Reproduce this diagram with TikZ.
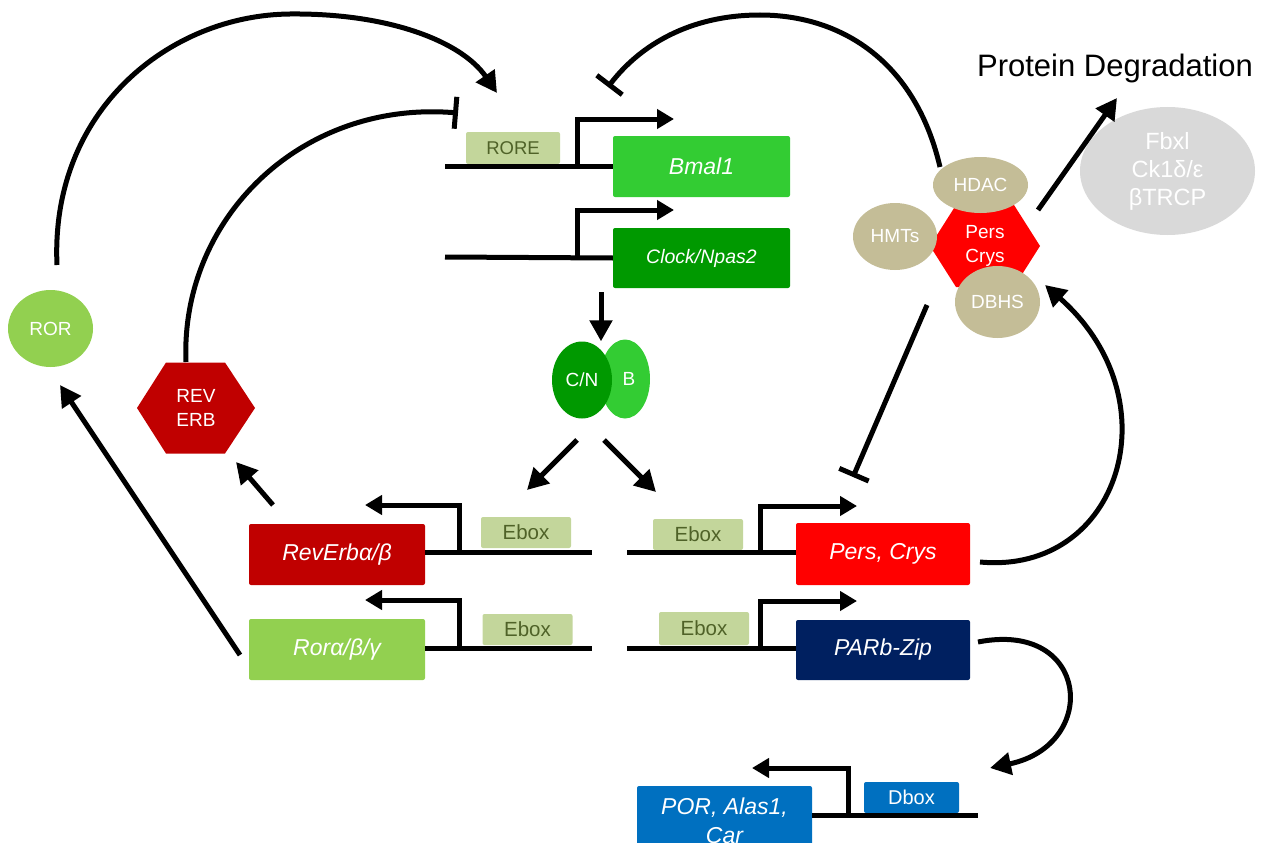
\documentclass[tikz,border=0pt]{standalone}
\usepackage{fontspec}
\setmainfont{Liberation Sans}
\usetikzlibrary{arrows.meta,shapes.geometric}
\definecolor{bmalgreen}{HTML}{33CC33}
\definecolor{clockgreen}{HTML}{009900}
\definecolor{roreface}{HTML}{C3D69B}
\definecolor{roretext}{HTML}{4F6228}
\definecolor{revred}{HTML}{C00000}
\definecolor{rorgreen}{HTML}{92D050}
\definecolor{persred}{HTML}{FF0000}
\definecolor{parblue}{HTML}{002060}
\definecolor{porblue}{HTML}{0070C0}
\definecolor{beige}{HTML}{C4BD97}
\definecolor{lightgray}{HTML}{D9D9D9}
\newcommand{\fs}[1]{\fontsize{#1}{#1}\selectfont}
\begin{document}
\begin{tikzpicture}[x=1pt,y=-1pt,
  genebox/.style={rectangle, rounded corners=2pt, inner sep=0pt, text=white,
    font=\fs{23}\itshape},
  sitebox/.style={rectangle, rounded corners=2pt, inner sep=0pt, fill=roreface,
    text=roretext, minimum width=90pt, minimum height=31pt, font=\fs{20.5}},
  blob/.style={ellipse, inner sep=0pt, text=white, font=\fs{19}},
  hextext/.style={rectangle, inner sep=0pt, text=white, align=center,
    font=\fontsize{19}{24}\selectfont},
  dna/.style={line width=5pt},
  prom/.style={line width=5pt, -{Triangle[length=17pt,width=19pt]}},
  act/.style={line width=5pt, -{Triangle[length=21pt,width=22pt]}},
  inh/.style={line width=5pt, -{Bar[width=32pt]}}
]
\useasboundingbox (0,0) rectangle (1262,843);
\clip (0,0) rectangle (1262,843);

% ---------- top genes ----------
\node[genebox, fill=bmalgreen, minimum width=177pt, minimum height=61pt] (bmal) at (701.5,166.5) {Bmal1};
\node[genebox, fill=clockgreen, minimum width=177pt, minimum height=60pt, font=\fs{19.5}\itshape] (clock) at (701.5,258) {Clock/Npas2};
\node[sitebox, minimum width=94pt, minimum height=32pt, font=\fs{18.5}] (rore) at (513,148) {RORE};
\coordinate (bmalL) at (445,166.5);
\coordinate (clockL) at (445,257);
\draw[dna] (bmalL) -- (bmal.west);
\draw[dna] (clockL) -- (clock.west);
\draw[prom] (577,166.5) -- (577,119) -- (674,119);
\draw[prom] (577,257) -- (577,210) -- (674,210);

% ---------- C/N B ----------
\node[blob, fill=bmalgreen, minimum width=50pt, minimum height=79pt] (bb) at (625,379) {\hspace*{8pt}B};
\node[blob, fill=clockgreen, minimum width=60pt, minimum height=77pt] (cn) at (582,380) {C/N};
\coordinate (clockdown) at (601,292);
\draw[act] (clockdown) -- (cn.north -| clockdown);
\coordinate (cnL) at (577,440);
\coordinate (cnR) at (604,440);
\coordinate (cnLtip) at (527,490);
\coordinate (cnRtip) at (656,492);
\draw[act] (cnL) -- (cnLtip);
\draw[act] (cnR) -- (cnRtip);

% ---------- left genes ----------
\node[genebox, fill=revred, minimum width=176pt, minimum height=61pt] (reverbg) at (337,554.5) {RevErbα/β};
\node[genebox, fill=rorgreen, minimum width=176pt, minimum height=61pt] (rorg) at (337,649.5) {Rorα/β/γ};
\node[sitebox] (ebox1) at (526,532.5) {Ebox};
\node[sitebox] (ebox2) at (527.5,629.5) {Ebox};
\coordinate (revR) at (592,552);
\coordinate (rorR) at (592,648);
\draw[dna] (reverbg.east |- revR) -- (revR);
\draw[dna] (rorg.east |- rorR) -- (rorR);
\draw[prom] (459,552) -- (459,505) -- (365,505);
\draw[prom] (459,648) -- (459,600) -- (365,600);

% ---------- right genes ----------
\node[genebox, fill=persred, minimum width=174pt, minimum height=62pt] (persg) at (883,554) {Pers, Crys};
\node[genebox, fill=parblue, minimum width=174pt, minimum height=60pt] (parb) at (883,650) {PARb-Zip};
\node[sitebox] (ebox3) at (698,534.5) {Ebox};
\node[sitebox, minimum height=33pt] (ebox4) at (704,628.5) {Ebox};
\coordinate (persL) at (627,552);
\coordinate (parbL) at (627,648);
\draw[dna] (persL) -- (persg.west |- persL);
\draw[dna] (parbL) -- (parb.west |- parbL);
\draw[prom] (760,552) -- (760,506) -- (857,506);
\draw[prom] (760,648) -- (760,601) -- (857,601);

% ---------- bottom gene ----------
\node[genebox, fill=porblue, minimum width=175pt, minimum height=88pt] (por) at (724.5,830) {};
\node[hextext, font=\fontsize{23}{28.5}\selectfont\itshape] (portext) at (724.5,821) {POR, Alas1,\\Car};
\node[rectangle, rounded corners=2pt, inner sep=0pt, fill=porblue, text=white,
  minimum width=95pt, minimum height=31pt, font=\fs{20}] (dbox) at (911.5,797.5) {Dbox};
\coordinate (porR) at (978,815);
\draw[dna] (por.east |- porR) -- (porR);
\draw[prom] (848,815) -- (848,768) -- (752,768);

% ---------- ROR and REV ERB ----------
\node[blob, fill=rorgreen, minimum width=85pt, minimum height=77pt] (ror) at (50.5,328.5) {ROR};
\fill[revred] (137,408) -- (166,362.5) -- (225,362.5) -- (255,408) -- (225,453.5) -- (166,453.5) -- cycle;
\node[hextext, minimum width=117pt, minimum height=91pt] (reverb) at (196,408) {REV\\ERB};

% ---------- Pers Crys complex ----------
\fill[persred] (930,246) -- (956,205) -- (1014,205) -- (1040,246) -- (1014,287) -- (956,287) -- cycle;
\node[hextext, minimum width=110pt, minimum height=82pt] (perscx) at (985,246) {Pers\\Crys};
\node[blob, fill=beige, minimum width=95pt, minimum height=56pt] (hdac) at (980.5,185) {HDAC};
\node[blob, fill=beige, minimum width=84pt, minimum height=67pt] (hmts) at (895,236.5) {HMTs};
\node[blob, fill=beige, minimum width=85pt, minimum height=72pt] (dbhs) at (997.5,302) {DBHS};

% ---------- degradation ----------
\node[font=\fs{31}, inner sep=0pt] (degr) at (1115,68) {Protein Degradation};
\node[blob, fill=lightgray, minimum width=175pt, minimum height=128pt, align=center,
  font=\fontsize{23.5}{28}\selectfont] (deg) at (1167.5,171) {Fbxl\\Ck1δ/ε\\βTRCP};
\coordinate (cxNE) at (1038,210);
\coordinate (degtip) at (1117,98);
\draw[act] (cxNE) -- (degtip);

% ---------- feedback connectors ----------
\coordinate (rorTop) at (57,265);
\coordinate (roreAct) at (497,93);
\draw[act] (rorTop) .. controls (50,110) and (170,15) .. (290,14)
   .. controls (390,13) and (462,42) .. (roreAct);

\coordinate (revTop) at (186,362);
\coordinate (roreInh) at (458,113);
\draw[inh] (revTop) .. controls (180,220) and (300,100) .. (roreInh);

\coordinate (hdacTop) at (940,167);
\coordinate (bmalInh) at (608,87);
\draw[inh] (hdacTop) .. controls (915,60) and (840,15) .. (760,15)
   .. controls (690,15) and (640,45) .. (bmalInh);

\coordinate (cxDown) at (927,305);
\coordinate (persInh) at (853,477);
\draw[inh] (cxDown) -- (persInh);

\coordinate (persOut) at (980,562);
\coordinate (dbhsTip) at (1045,285);
\draw[act] (persOut) .. controls (1120,575) and (1175,400) .. (dbhsTip);

\coordinate (parbOut) at (978,642);
\coordinate (dboxTip) at (990,768);
\draw[act] (parbOut) .. controls (1090,620) and (1100,745) .. (dboxTip);

\coordinate (rorgOut) at (240,655);
\coordinate (rorTip) at (60,385);
\draw[act] (rorgOut) -- (rorTip);

\coordinate (revgOut) at (273,505);
\coordinate (revTip) at (236,462);
\draw[act] (revgOut) -- (revTip);
\end{tikzpicture}
\end{document}
